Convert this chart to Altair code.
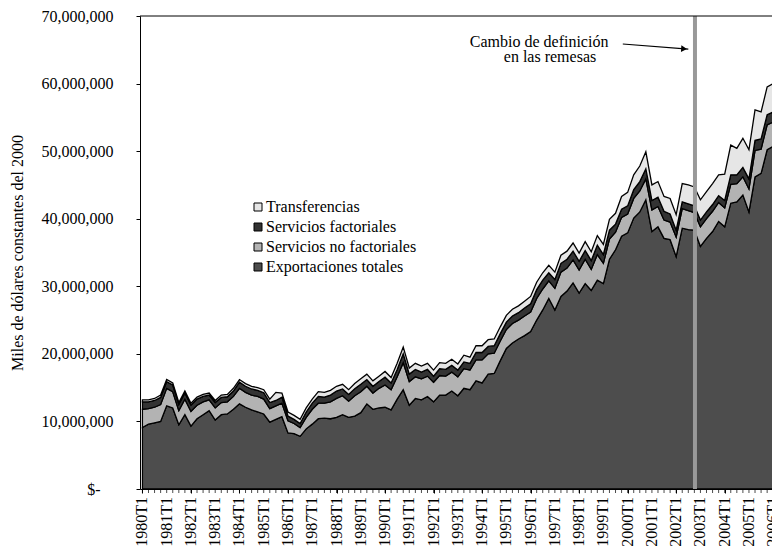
import altair as alt
import pandas as pd

# Quarterly values, millions of (thousand) constant 2000 dollars, 1980T1 .. 2006T2
export_m = [9.1, 9.6, 9.8, 10.0, 12.3, 12.0, 9.5, 11.0, 9.3, 10.4, 11.0, 11.6,
            10.2, 11.0, 11.1, 11.8, 12.6, 12.1, 11.7, 11.4, 11.1, 9.9, 10.3, 10.7,
            8.3, 8.2, 7.8, 8.9, 9.6, 10.4, 10.5, 10.4, 10.6, 11.0, 10.6, 10.8,
            11.3, 12.6, 11.8, 12.0, 12.1, 11.7, 13.3, 14.7, 12.4, 13.4, 13.2, 13.7,
            12.9, 13.9, 13.9, 14.5, 13.8, 14.9, 14.7, 16.0, 15.7, 17.0, 17.1, 19.0,
            20.8, 21.6, 22.2, 22.7, 23.3, 25.0, 26.5, 28.2, 26.5, 28.5, 29.3, 30.5,
            29.0, 30.4, 29.4, 30.9, 30.4, 34.0, 35.4, 37.4, 37.9, 40.1, 41.0, 42.8,
            38.1, 38.8, 37.1, 36.9, 34.4, 38.6, 38.4, 38.3, 35.9, 37.1, 38.1, 39.6,
            38.8, 42.3, 42.5, 43.5, 41.0, 46.2, 46.7, 50.2, 50.7, 52.5]
nonfact_m = [2.7, 2.3, 2.3, 2.5, 2.6, 2.4, 2.1, 2.3, 2.2, 2.0, 1.9, 1.6,
             1.8, 1.8, 1.8, 1.9, 2.3, 2.2, 2.2, 2.3, 2.2, 2.0, 2.0, 2.0,
             1.8, 1.5, 1.3, 1.7, 2.2, 2.3, 2.2, 2.5, 2.8, 2.8, 2.4, 3.0,
             3.1, 2.6, 2.4, 2.9, 3.3, 3.0, 3.3, 4.0, 3.5, 3.2, 3.1, 3.0,
             2.9, 2.9, 2.8, 2.8, 2.8, 2.9, 2.9, 3.1, 3.4, 3.0, 3.0, 2.9,
             2.8, 2.9, 2.8, 2.9, 2.9, 3.2, 3.1, 2.6, 3.2, 3.6, 3.4, 3.4,
             3.4, 3.6, 3.1, 3.8, 3.0, 3.0, 2.6, 2.8, 2.8, 2.9, 3.1, 3.1,
             3.2, 3.0, 2.7, 2.6, 2.9, 2.9, 2.8, 2.6, 2.9, 2.9, 3.0, 2.8,
             2.8, 2.8, 2.7, 2.7, 3.4, 3.9, 3.6, 3.7, 3.6, 3.4]
fact_m = [1.1, 1.0, 1.0, 1.05, 1.0, 1.0, 0.9, 0.9, 0.9, 0.9, 0.8, 0.7,
          0.8, 0.75, 0.75, 0.8, 0.9, 0.9, 0.9, 0.9, 0.95, 0.9, 0.8, 0.9,
          0.7, 0.6, 0.6, 0.8, 0.9, 1.0, 0.9, 1.0, 1.1, 1.0, 1.0, 1.05,
          1.1, 1.0, 1.0, 1.0, 1.15, 1.0, 1.1, 1.3, 1.1, 1.1, 1.0, 1.0,
          0.9, 1.0, 1.0, 1.0, 1.0, 1.0, 1.0, 1.1, 1.1, 1.1, 1.1, 1.1,
          1.1, 1.1, 1.1, 1.2, 1.2, 1.3, 1.3, 1.2, 1.3, 1.3, 1.3, 1.3,
          1.3, 1.3, 1.3, 1.4, 1.3, 1.3, 1.2, 1.2, 1.2, 1.3, 1.4, 1.5,
          1.4, 1.4, 1.3, 1.2, 1.0, 1.0, 1.0, 1.0, 1.0, 1.0, 1.0, 1.0,
          1.1, 1.4, 1.3, 1.4, 1.5, 1.5, 1.5, 1.5, 1.5, 1.5]
transf_m = [0.3, 0.3, 0.3, 0.35, 0.3, 0.3, 0.3, 0.3, 0.3, 0.3, 0.3, 0.3,
            0.3, 0.35, 0.35, 0.4, 0.4, 0.4, 0.4, 0.4, 0.45, 0.5, 1.2, 0.6,
            0.6, 0.6, 0.6, 0.6, 0.6, 0.7, 0.7, 0.7, 0.7, 0.7, 0.7, 0.75,
            0.8, 0.8, 0.8, 0.8, 0.85, 0.8, 0.9, 1.0, 0.9, 0.9, 0.9, 0.9,
            0.9, 0.9, 0.9, 0.9, 0.9, 1.0, 0.9, 1.0, 1.0, 1.0, 1.0, 1.0,
            1.0, 1.0, 1.0, 1.0, 1.1, 1.1, 1.1, 1.1, 1.1, 1.2, 1.2, 1.2,
            1.2, 1.3, 1.3, 1.4, 1.5, 1.6, 1.6, 1.9, 2.0, 2.2, 2.3, 2.5,
            2.3, 2.3, 2.2, 2.3, 2.3, 2.7, 2.8, 2.8, 3.0, 3.0, 3.1, 3.1,
            3.9, 4.4, 3.9, 4.3, 4.3, 4.5, 4.0, 4.1, 4.2, 4.2]

series_names = ["Exportaciones totales", "Servicios no factoriales",
                "Servicios factoriales", "Transferencias"]
series_colors = ["#4d4d4d", "#b3b3b3", "#333333", "#e6e6e6"]
legend_order = ["Transferencias", "Servicios factoriales",
                "Servicios no factoriales", "Exportaciones totales"]

year_labels = ["1980T1", "1981T1", "1982T1", "1983T1", "1984T1", "1985T1", "1986T1",
               "1987T1", "1988T1", "1989T1", "1990T1", "1991T1", "1992T1", "1993T1",
               "1994T1", "1995T1", "1996T1", "1997T1", "1998T1", "1999T1", "2000T1",
               "2001T1", "2002T1", "2003T1", "2004T1", "2005T1", "2006T1"]
y_ticks = [0, 10000000, 20000000, 30000000, 40000000, 50000000, 60000000, 70000000]

change_idx = [91.1]
ann_text = ["Cambio de definición", "en las remesas"]
ann_x = [65.4, 67.2]
ann_y = [66.1, 64.0]
arrow_x = [79.2, 90.0]
arrow_y = [65.86, 65.1]
arrow_head_x = [89.3]
arrow_head_y = [65.15]

SCALE = 1_000_000
FONT = "Liberation Serif"

rows = []
for k, (name, vals) in enumerate(zip(series_names, [export_m, nonfact_m, fact_m, transf_m])):
    for i, v in enumerate(vals):
        rows.append({"idx": i, "serie": name, "valor": v * SCALE, "ord": k})
df = pd.DataFrame(rows)
quarter_idx = list(range(len(export_m)))
label_values = [4 * k for k in range(len(year_labels))]

# plot area runs off the right edge of the picture, as in the original
x_scale = alt.Scale(domain=[-0.4, 103.8], nice=False, zero=False)
y_scale = alt.Scale(domain=[0, 70000000], nice=False)

areas = alt.Chart(df).mark_area(stroke="black", strokeWidth=1.3, strokeJoin="miter",
                                interpolate="linear", opacity=1, clip=True).encode(
    x=alt.X("idx:Q", scale=x_scale,
            axis=alt.Axis(values=label_values, labels=False, tickSize=4,
                          tickColor="black", domainColor="black",
                          grid=False, title=None)),
    y=alt.Y("valor:Q", stack="zero", scale=y_scale,
            axis=alt.Axis(values=y_ticks,
                          labelExpr="datum.value == 0 ? '$-' : format(datum.value, ',')",
                          labelFont=FONT, labelFontSize=16, labelColor="black",
                          tickSize=4, tickColor="black", domainColor="black",
                          labelPadding={"condition": {"test": "datum.value == 0", "value": 36},
                                        "value": 23},
                          grid=False, labelOverlap=False,
                          title="Miles de dólares constantes del 2000",
                          titleFont=FONT, titleFontSize=16, titleFontWeight="normal",
                          titleColor="black", titlePadding=16)),
    color=alt.Color("serie:N",
                    scale=alt.Scale(domain=series_names, range=series_colors),
                    sort=legend_order,
                    legend=alt.Legend(orient="none", legendX=110, legendY=183,
                                      title=None, labelFont=FONT, labelFontSize=16,
                                      labelColor="black", symbolType="square",
                                      symbolSize=64, symbolStrokeColor="black",
                                      symbolStrokeWidth=1, symbolOpacity=1,
                                      rowPadding=4, labelOffset=0,
                                      values=legend_order)),
    order=alt.Order("ord:Q", sort="ascending"),
)

# small tick marks below the x axis, one per quarter
minor_ticks = alt.Chart(pd.DataFrame({"q": quarter_idx})).mark_tick(
    color="black", thickness=1, size=4, orient="vertical", yOffset=2).encode(
    x=alt.X("q:Q", scale=x_scale), y=alt.datum(0, scale=y_scale))

# quarter labels under the axis, rotated
xlab_df = pd.DataFrame({"q": label_values, "lab": year_labels})
x_labels = alt.Chart(xlab_df).mark_text(
    font=FONT, fontSize=16, color="black", angle=270, align="right",
    baseline="middle", yOffset=8).encode(
    x=alt.X("q:Q", scale=x_scale), y=alt.datum(0, scale=y_scale), text="lab:N")

top_border = alt.Chart(pd.DataFrame({"y": [70000000]})).mark_rule(
    color="black", strokeWidth=1).encode(y=alt.Y("y:Q", scale=y_scale))

change_line = alt.Chart(pd.DataFrame({"x": change_idx})).mark_rule(
    color="#999999", strokeWidth=4).encode(x=alt.X("x:Q", scale=x_scale))

ann_df = pd.DataFrame({"t": ann_text, "x": ann_x, "y": [v * SCALE for v in ann_y]})
ann = alt.Chart(ann_df).mark_text(font=FONT, fontSize=16, color="black",
                                  align="center", baseline="middle").encode(
    x=alt.X("x:Q", scale=x_scale), y=alt.Y("y:Q", scale=y_scale), text="t:N")

arrow_df = pd.DataFrame({"x": arrow_x, "y": [v * SCALE for v in arrow_y]})
arrow = alt.Chart(arrow_df).mark_line(color="black", strokeWidth=1.2).encode(
    x=alt.X("x:Q", scale=x_scale), y=alt.Y("y:Q", scale=y_scale))

head_df = pd.DataFrame({"x": arrow_head_x, "y": [v * SCALE for v in arrow_head_y]})
head = alt.Chart(head_df).mark_point(shape="triangle-right", filled=True, color="black",
                                     size=45, opacity=1, angle=4).encode(
    x=alt.X("x:Q", scale=x_scale), y=alt.Y("y:Q", scale=y_scale))

chart = alt.layer(areas, minor_ticks, x_labels, change_line, top_border,
                  arrow, head, ann).properties(
    width=632, height=473,
    autosize=alt.AutoSizeParams(type="none"),
    padding={"left": 132, "top": 8, "right": 0, "bottom": 61},
    background="white",
).configure_view(stroke=None, clip=False)

chart.save("out.html", embed_options={"renderer": "svg", "actions": False})
